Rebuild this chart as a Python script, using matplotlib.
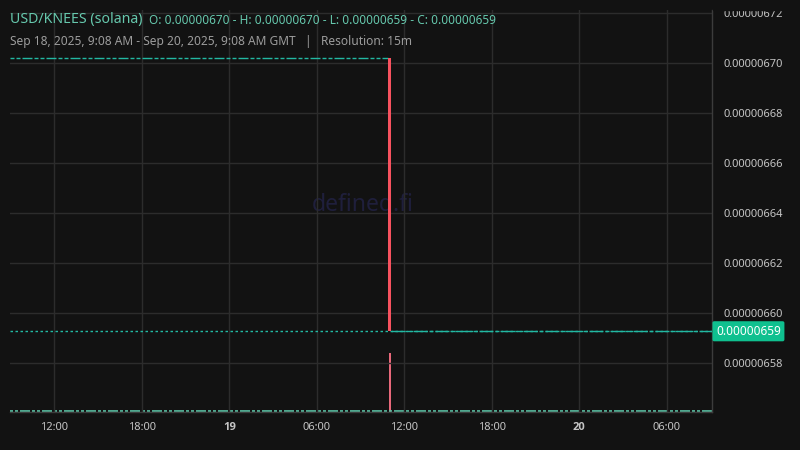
import matplotlib
matplotlib.use("Agg")
import matplotlib.pyplot as plt
import matplotlib.dates as mdates
import pandas as pd
from matplotlib.patches import Rectangle

plt.rcParams['font.family'] = ['Noto Sans', 'DejaVu Sans']
plt.rcParams['lines.scale_dashes'] = False

# ---------------- data ----------------
pair_name = "USD/KNEES (solana)"
ohlc_labels = ["O", "H", "L", "C"]
ohlc_values = [0.00000670, 0.00000670, 0.00000659, 0.00000659]
range_text = "Sep 18, 2025, 9:08 AM - Sep 20, 2025, 9:08 AM GMT"
resolution = "15m"

view_start = "2025-09-18 08:58"
view_end = "2025-09-20 09:06"

before_times = ["2025-09-18 08:58", "2025-09-19 10:55"]
before_price = [6.702e-6, 6.702e-6]
drop_time = "2025-09-19 11:00"
drop_open = 6.702e-6
drop_close = 6.5928e-6
after_times = ["2025-09-19 11:05", "2025-09-20 09:06"]
after_price = [6.5928e-6, 6.5928e-6]
last_price = 6.5928e-6
last_price_label = "0.00000659"

volume_times = ["2025-09-18 08:58", "2025-09-20 09:06"]
volume_base = [0.02, 0.02]
drop_volume = 1.0

xtick_times = ["2025-09-18 12:00", "2025-09-18 18:00", "2025-09-19 00:00",
               "2025-09-19 06:00", "2025-09-19 12:00", "2025-09-19 18:00",
               "2025-09-20 00:00", "2025-09-20 06:00"]
xtick_labels = ["12:00", "18:00", "19", "06:00", "12:00", "18:00", "20", "06:00"]
ytick_values = [6.58e-6, 6.60e-6, 6.62e-6, 6.64e-6, 6.66e-6, 6.68e-6, 6.70e-6, 6.72e-6]

# ---------------- style ----------------
BG = "#121212"
GRID = "#2c2c2c"
SPINE = "#3c3c3c"
TEAL = "#22b8a2"
TITLE_TEAL = "#66c8ad"
RED = "#f7525f"
VOL_RED = "#e8687a"
VOL_TEAL = "#5cc4a8"
LABEL = "#c4c4c4"
PX = 0.72  # points per pixel at 100 dpi

def d(s):
    return mdates.date2num(pd.Timestamp(s))

fig = plt.figure(figsize=(8, 4.5), dpi=100, facecolor=BG)
ax = fig.add_axes([10 / 800, 38 / 450, 702 / 800, 402 / 450])
ax.set_facecolor(BG)

# volume axis
axv = ax.twinx()
axv.set_zorder(ax.get_zorder() - 1)
ax.patch.set_visible(False)
axv.set_facecolor(BG)
axv.plot([d(t) for t in volume_times], volume_base, color=VOL_TEAL, lw=1.2,
         dashes=(3 * PX, 2 * PX, 3 * PX, 2 * PX, 10 * PX, 2 * PX))
axv.bar([d(drop_time)], [drop_volume], width=8 / 1440, color=VOL_RED, align='center')
axv.set_ylim(0, drop_volume / 0.147)
axv.set_yticks([])
for s in axv.spines.values():
    s.set_visible(False)

# watermark
ax.text(0.503, 0.515, "defined.fi", transform=ax.transAxes, ha='center', va='center',
        fontsize=16.5, color="#1f1f3c", zorder=0)

# price lines
ax.axhline(last_price, color=TEAL, lw=1, dashes=(2.5 * PX, 2.5 * PX), zorder=2)
ax.plot([d(t) for t in before_times], before_price, color=TEAL, lw=1,
        dashes=(4 * PX, 2 * PX, 4 * PX, 2 * PX, 10 * PX, 2 * PX), zorder=3)
ax.plot([d(t) for t in after_times], after_price, color=TEAL, lw=1,
        dashes=(14 * PX, 2 * PX, 4 * PX, 2 * PX), zorder=3)
ax.bar([d(drop_time)], [drop_open - drop_close], bottom=drop_close, width=10 / 1440,
       color=RED, align='center', zorder=4)

ax.set_xlim(d(view_start), d(view_end))
ax.set_ylim(6.5605e-6, 6.72133e-6)

ax.set_yticks(ytick_values)
ax.set_yticklabels([f"{v:.8f}" for v in ytick_values])
ax.yaxis.tick_right()
ax.set_xticks([d(t) for t in xtick_times])
ax.set_xticklabels(xtick_labels)
for tick, txt in zip(ax.xaxis.get_major_ticks(), xtick_labels):
    if ":" not in txt:
        tick.label1.set_fontfamily(['Open Sans', 'DejaVu Sans'])
        tick.label1.set_fontweight('bold')
ax.tick_params(axis='y', length=0, pad=8, labelsize=8, labelcolor=LABEL)
ax.tick_params(axis='x', length=0, pad=7, labelsize=8, labelcolor=LABEL)
ax.grid(True, color=GRID, lw=1)
ax.set_axisbelow(True)
for side in ['top', 'left']:
    ax.spines[side].set_visible(False)
for side in ['right', 'bottom']:
    ax.spines[side].set_color(SPINE)
    ax.spines[side].set_linewidth(1)

# last price tag
ax.annotate(last_price_label, xy=(1.0, last_price), xycoords=('axes fraction', 'data'),
            xytext=(4, 0), textcoords='offset pixels', ha='left', va='center',
            fontsize=8.5, color='white', annotation_clip=False,
            bbox=dict(boxstyle='round,pad=0.3,rounding_size=0.15', fc="#0fc08f", ec='none'))

# clip top of the axis label area
fig.add_artist(Rectangle((712.5 / 800, 440 / 450), 88 / 800, 10 / 450,
                         transform=fig.transFigure, color=BG, zorder=10))

# header texts
fig.text(10 / 800, 1 - 20 / 450, pair_name, fontsize=10.2, color=TITLE_TEAL, va='center')
ohlc_text = " - ".join(f"{k}: {v:.8f}" for k, v in zip(ohlc_labels, ohlc_values))
fig.text(149 / 800, 1 - 20 / 450, ohlc_text, fontsize=8.5, color=TITLE_TEAL, va='center')
fig.text(10 / 800, 1 - 41 / 450, f"{range_text}   |   Resolution: {resolution}",
         fontsize=8.6, color="#9c9c9c", va='center')

fig.savefig("out.png", dpi=100, facecolor=BG)
